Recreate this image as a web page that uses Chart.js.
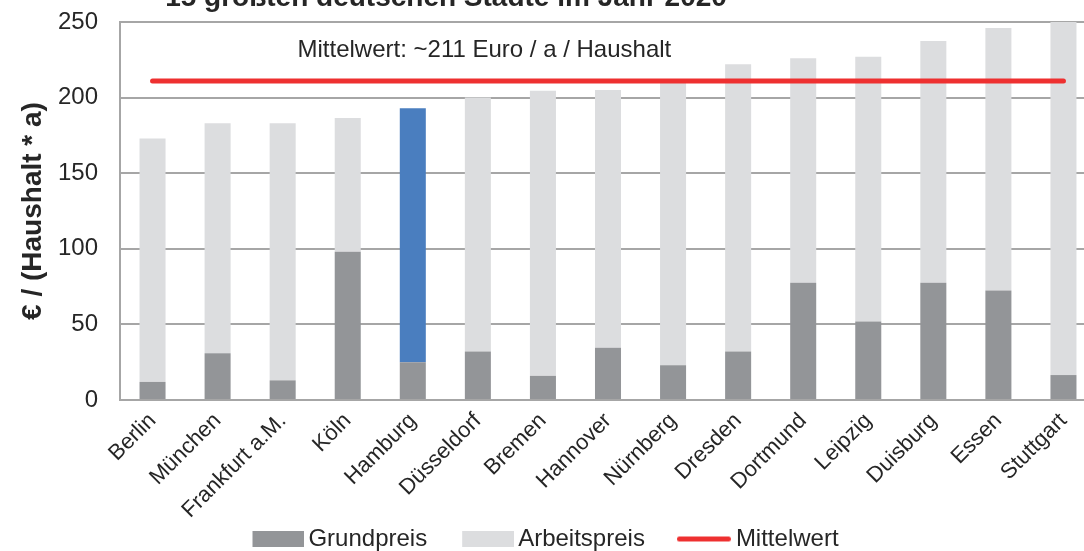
<!DOCTYPE html>
<html>
<head>
<meta charset="utf-8">
<script src="https://cdn.jsdelivr.net/npm/chart.js@4.4.1/dist/chart.umd.min.js"></script>
<style>
  html, body { margin: 0; padding: 0; background: #fff; overflow: hidden; width: 1084px; height: 551px; }
  #wrap { position: absolute; left: 0; top: 0; width: 1100px; height: 561px; }
</style>
</head>
<body>
<div id="wrap"><canvas id="c" width="1100" height="561"></canvas></div>
<script>
// ---- data ----
const cities = ["Berlin", "München", "Frankfurt a.M.", "Köln", "Hamburg", "Düsseldorf", "Bremen",
  "Hannover", "Nürnberg", "Dresden", "Dortmund", "Leipzig", "Duisburg", "Essen", "Stuttgart"];
const grundpreis   = [12, 31, 13, 98, 25, 32, 16, 34.5, 23, 32, 77.5, 52, 77.5, 72.5, 16.5];
const arbeitspreis = [161, 152, 170, 88.5, 168, 168, 188.5, 170.5, 187, 190, 148.5, 175, 160, 173.5, 233.5];
const mittelwert   = [211, 211, 211, 211, 211, 211, 211, 211, 211, 211, 211, 211, 211, 211, 211];
const yTicks = [0, 50, 100, 150, 200, 250];
const highlightCity = "Hamburg";
const titleText = "15 größten deutschen Städte im Jahr 2020";
const annotationText = "Mittelwert: ~211 Euro / a / Haushalt";
const yTitle = "€ / (Haushalt * a)";

// ---- styles ----
const FONT = "'Liberation Sans', Arial, sans-serif";
const TEXT = "#262626";
const GRID = "#a6a6a6";
const C_GRUND = "#939598";
const C_ARBEIT = "#dcdddf";
const C_HIGHLIGHT = "#4a7ebf";
const C_RED = "#ee3030";
const CANVAS_H = 561;
const PLOT_BOTTOM = 400;
const PLOT_LEFT = 120;

// legend swatches (visible part sits at the right end of the image)
function swatchRect(color, w, visW, h) {
  const c = document.createElement('canvas');
  c.width = w; c.height = h;
  const g = c.getContext('2d');
  g.fillStyle = color; g.fillRect(w - visW, 0, visW, h);
  return c;
}
function swatchLine(color, w, visW, lw) {
  const c = document.createElement('canvas');
  c.width = w; c.height = lw + 2;
  const g = c.getContext('2d');
  g.strokeStyle = color; g.lineWidth = lw; g.lineCap = 'round';
  g.beginPath();
  g.moveTo(w - visW + lw / 2, (lw + 2) / 2);
  g.lineTo(w - lw / 2 - 1, (lw + 2) / 2);
  g.stroke();
  return c;
}

const overlay = {
  id: 'overlay',
  afterDraw(chart) {
    const ctx = chart.ctx;
    const xs = chart.scales.x, ys = chart.scales.y;
    ctx.save();
    // cropped title at the very top
    ctx.font = "bold 28px " + FONT;
    ctx.fillStyle = TEXT;
    ctx.textAlign = "center";
    ctx.textBaseline = "alphabetic";
    ctx.fillText(titleText, 446, 6);
    // annotation text for the mean line
    ctx.font = "24px " + FONT;
    ctx.textBaseline = "middle";
    ctx.fillText(annotationText, xs.getPixelForValue(5.1), ys.getPixelForValue(231));
    ctx.restore();
  }
};

new Chart(document.getElementById('c'), {
  data: {
    labels: cities,
    datasets: [
      {
        type: 'line', label: 'Mittelwert', data: mittelwert, order: 0, stack: 'mean',
        borderColor: C_RED, backgroundColor: C_RED, borderWidth: 5, pointRadius: 0,
        borderCapStyle: 'round', fill: false, tension: 0
      },
      {
        type: 'bar', label: 'Grundpreis', data: grundpreis, order: 1, stack: 'bars',
        backgroundColor: C_GRUND, borderWidth: 0,
        categoryPercentage: 1, barPercentage: 0.4
      },
      {
        type: 'bar', label: 'Arbeitspreis', data: arbeitspreis, order: 1, stack: 'bars',
        backgroundColor: cities.map(c => c === highlightCity ? C_HIGHLIGHT : C_ARBEIT), borderWidth: 0,
        categoryPercentage: 1, barPercentage: 0.4
      }
    ]
  },
  options: {
    responsive: false,
    animation: false,
    devicePixelRatio: 1,
    layout: { padding: { top: 22, left: 0, right: 4, bottom: 0 } },
    plugins: {
      tooltip: { enabled: false },
      title: { display: false },
      legend: {
        position: 'bottom',
        labels: {
          usePointStyle: true,
          pointStyleWidth: 39,
          boxHeight: 16,
          padding: 40,
          color: TEXT,
          font: { family: FONT, size: 24 },
          generateLabels(chart) {
            return [
              { text: 'Grundpreis', fillStyle: C_GRUND, strokeStyle: C_GRUND, lineWidth: 0, pointStyle: swatchRect(C_GRUND, 55, 52, 16), datasetIndex: 1, fontColor: TEXT },
              { text: 'Arbeitspreis', fillStyle: C_ARBEIT, strokeStyle: C_ARBEIT, lineWidth: 0, pointStyle: swatchRect(C_ARBEIT, 55, 52, 16), datasetIndex: 2, fontColor: TEXT },
              { text: 'Mittelwert', fillStyle: C_RED, strokeStyle: C_RED, lineWidth: 0, pointStyle: swatchLine(C_RED, 55, 55, 5), datasetIndex: 0, fontColor: TEXT }
            ];
          }
        }
      }
    },
    scales: {
      x: {
        stacked: true,
        grid: { display: false, drawTicks: false },
        border: { display: true, color: GRID, width: 2 },
        ticks: {
          color: TEXT, font: { family: FONT, size: 22 },
          maxRotation: 45, minRotation: 45, autoSkip: false, padding: 8
        },
        afterFit(scale) {
          const lh = scale.chart.legend ? scale.chart.legend.height : 74;
          scale.height = CANVAS_H - PLOT_BOTTOM - lh;
          // let the rotated labels run below the (short) axis box instead of being clipped
          scale._computeLabelArea = () => null;
        }
      },
      y: {
        stacked: true,
        min: 0, max: 250,
        afterBuildTicks(scale) { scale.ticks = yTicks.map(v => ({ value: v })); },
        grid: { color: GRID, lineWidth: 2, drawTicks: true, tickLength: 22, tickColor: 'rgba(0,0,0,0)' },
        border: { display: true, color: GRID, width: 2 },
        ticks: { color: TEXT, font: { family: FONT, size: 24 }, padding: 0 },
        title: {
          display: true, text: yTitle, color: TEXT,
          font: { family: FONT, size: 28, weight: 'bold' },
          padding: { top: 16, bottom: 0 }
        },
        afterFit(scale) { scale.width = PLOT_LEFT; }
      }
    }
  },
  plugins: [overlay]
});
</script>
</body>
</html>
